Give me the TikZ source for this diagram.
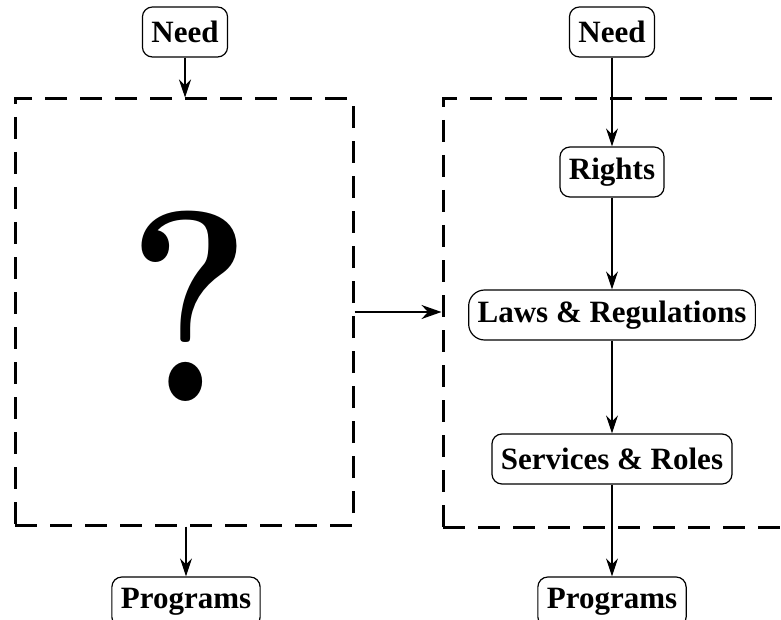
\documentclass[tikz,border=0pt]{standalone}
\usepackage{fontspec}
\setmainfont{Liberation Serif}
\newfontfamily\lmfont{Latin Modern Roman}
\usepackage{xcolor}
\usepackage{tikz}
\usetikzlibrary{arrows.meta,calc}
\definecolor{ink}{HTML}{000000}
\tikzset{
  box/.style={draw=ink, rounded corners=5pt, line width=0.6pt, font=\fontsize{15.5}{18}\selectfont\bfseries,
    inner xsep=4.5pt, inner ysep=0pt, minimum height=25pt},
  frame/.style={draw=ink, line width=1.5pt, dash pattern=on 11pt off 6.5pt, inner sep=0pt},
  link/.style={-{Stealth[length=9pt,width=6pt]}, line width=0.6pt, draw=ink},
  bridge/.style={-{Stealth[length=10pt,width=7pt]}, line width=1pt, draw=ink}
}

\begin{document}
\begin{tikzpicture}[x=0.5pt, y=-0.5pt]
  \useasboundingbox (0,0) rectangle (781,620);
  \clip (0,0) rectangle (781,620);
  % left: unknown process
  \node[box] (needL) at (185,32) {Need};
  \node[frame, minimum width=169pt, minimum height=213pt] (qbox) at (184,312) {};
  \node[font=\lmfont\fontsize{136}{136}\selectfont\bfseries, xscale=0.86] (qmark) at (190,306) {?};
  \node[box] (progL) at (186,602) {Programs};
  \draw[link] (needL) -- (qbox.north -| needL);
  \draw[link] (qbox.south -| progL) -- (progL);
  % right: rights based chain
  \node[frame, minimum width=194pt, minimum height=214pt] (chain) at (637,313) {};
  \node[box] (needR) at (612,32) {Need};
  \node[box] (rights) at (612,172) {Rights};
  \node[box, rounded corners=8pt] (laws) at (612,315) {Laws \& Regulations};
  \node[box] (services) at (612,459) {Services \& Roles};
  \node[box] (progR) at (612,602) {Programs};
  \draw[link] (needR) -- (rights);
  \draw[link] (rights) -- (laws);
  \draw[link] (laws) -- (services);
  \draw[link] (services) -- (progR);
  \draw[bridge] (qbox.east) -- (qbox.east -| chain.west);
\end{tikzpicture}
\end{document}
